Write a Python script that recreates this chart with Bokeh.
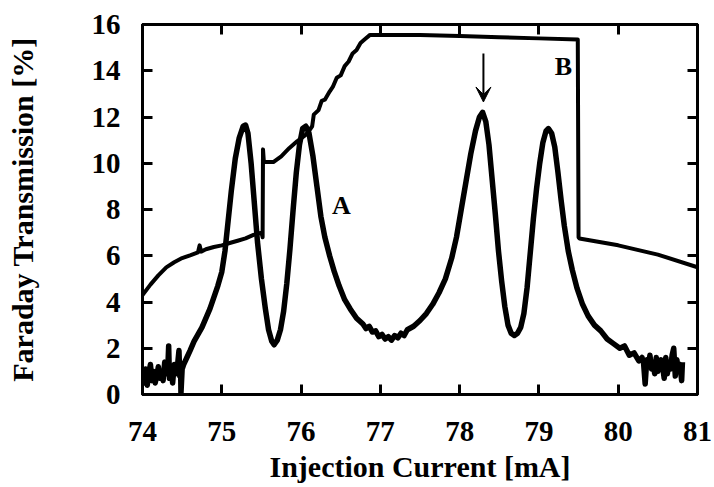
from bokeh.plotting import figure
from bokeh.models import (Range1d, FixedTicker, LinearAxis, Label, Arrow, VeeHead)
from bokeh.embed import file_html
from bokeh.resources import INLINE

# ---- data ----
x_ticks = [74, 75, 76, 77, 78, 79, 80, 81]
y_ticks = [0, 2, 4, 6, 8, 10, 12, 14, 16]

# Curve B (step-like trace)
b_x = [74.00, 74.10, 74.20, 74.30, 74.40, 74.50, 74.60, 74.70, 74.72, 74.74, 74.80, 74.90,
       75.00, 75.10, 75.20, 75.30, 75.40, 75.50, 75.515, 75.52, 75.53, 75.55, 75.60, 75.65,
       75.75, 75.85, 75.95, 76.05, 76.10, 76.14, 76.16, 76.22, 76.26, 76.30, 76.36, 76.40,
       76.45, 76.50, 76.55, 76.60, 76.65, 76.70, 76.75, 76.80, 76.87, 77.50, 78.00, 78.50,
       79.00, 79.49, 79.50, 79.51, 80.00, 80.50, 81.00]
b_y = [4.30, 4.75, 5.15, 5.50, 5.72, 5.90, 6.02, 6.15, 6.45, 6.18, 6.28, 6.38,
       6.45, 6.55, 6.65, 6.75, 6.90, 7.00, 6.80, 10.60, 10.10, 10.05, 10.05, 10.05,
       10.30, 10.65, 10.95, 11.20, 11.40, 11.60, 12.10, 12.30, 12.70, 12.75, 13.10, 13.30,
       13.70, 13.80, 14.20, 14.40, 14.75, 14.90, 15.20, 15.35, 15.55, 15.55, 15.50, 15.45,
       15.40, 15.35, 6.80, 6.75, 6.45, 6.05, 5.50]

# Curve A (Faraday resonances)
a_x = [74.00, 74.02, 74.04, 74.06, 74.08, 74.10, 74.12, 74.14, 74.16, 74.18, 74.20, 74.22,
       74.24, 74.26, 74.28, 74.30, 74.32, 74.33, 74.34, 74.36, 74.38, 74.40, 74.42, 74.44,
       74.46, 74.47, 74.48, 74.485, 74.50, 74.52, 74.56, 74.60, 74.65, 74.70, 74.75, 74.80,
       74.85, 74.90, 74.95, 75.00, 75.04, 75.08, 75.12, 75.17, 75.22, 75.27, 75.30, 75.33,
       75.37, 75.41, 75.45, 75.50, 75.55, 75.59, 75.63, 75.66, 75.70, 75.74, 75.78, 75.82,
       75.86, 75.90, 75.94, 75.98, 76.02, 76.06, 76.10, 76.15, 76.20, 76.25, 76.30, 76.36,
       76.42, 76.48, 76.55, 76.62, 76.70, 76.78, 76.82, 76.86, 76.90, 76.94, 76.98, 77.02,
       77.06, 77.10, 77.14, 77.18, 77.22, 77.26, 77.30, 77.34, 77.42, 77.50, 77.58, 77.66,
       77.74, 77.82, 77.90, 77.96, 78.02, 78.08, 78.14, 78.20, 78.25, 78.29, 78.33, 78.37,
       78.41, 78.45, 78.49, 78.53, 78.57, 78.61, 78.65, 78.69, 78.73, 78.77, 78.81, 78.85,
       78.89, 78.93, 78.97, 79.01, 79.05, 79.09, 79.12, 79.16, 79.20, 79.24, 79.28, 79.32,
       79.37, 79.42, 79.48, 79.55, 79.62, 79.70, 79.78, 79.86, 79.94, 80.02, 80.08, 80.14,
       80.20, 80.26, 80.30, 80.32, 80.34, 80.36, 80.38, 80.40, 80.42, 80.44, 80.46, 80.48,
       80.50, 80.52, 80.54, 80.56, 80.58, 80.60, 80.62, 80.64, 80.66, 80.68, 80.70, 80.72,
       80.74, 80.76, 80.78, 80.80, 80.81]
a_y = [1.20, 0.50, 1.10, 0.40, 0.90, 1.30, 0.60, 1.00, 0.50, 0.80, 1.20, 0.70,
       1.00, 0.60, 1.40, 0.90, 1.20, 2.10, 0.70, 1.10, 0.50, 1.30, 0.90, 1.20,
       1.90, 0.80, 1.30, 0.05, 1.10, 1.30, 1.60, 1.90, 2.30, 2.60, 2.90, 3.30,
       3.70, 4.20, 4.70, 5.30, 6.20, 7.50, 8.80, 10.20, 11.10, 11.60, 11.65, 11.30,
       10.00, 8.30, 6.60, 5.00, 3.70, 2.80, 2.30, 2.15, 2.35, 2.80, 3.60, 4.80,
       6.30, 8.00, 9.60, 10.80, 11.50, 11.60, 11.30, 10.30, 9.00, 7.70, 6.80, 6.00,
       5.30, 4.70, 4.10, 3.70, 3.30, 3.05, 2.85, 2.95, 2.70, 2.75, 2.50, 2.60,
       2.40, 2.50, 2.35, 2.55, 2.45, 2.65, 2.55, 2.80, 2.95, 3.20, 3.50, 3.90,
       4.40, 5.00, 5.90, 6.80, 8.00, 9.20, 10.40, 11.40, 12.00, 12.20, 11.80, 10.80,
       9.30, 7.80, 6.20, 4.90, 3.80, 3.00, 2.65, 2.55, 2.65, 2.90, 3.50, 4.60,
       6.10, 7.60, 8.90, 10.00, 10.90, 11.40, 11.50, 11.30, 10.70, 9.60, 8.40, 7.30,
       6.20, 5.40, 4.60, 3.90, 3.40, 3.00, 2.75, 2.40, 2.20, 2.00, 2.10, 1.70,
       1.80, 1.45, 1.60, 1.35, 0.45, 1.50, 1.20, 1.70, 1.10, 1.40, 0.90, 1.60,
       1.00, 1.30, 1.50, 1.20, 0.70, 1.60, 0.90, 1.40, 1.10, 1.70, 2.00, 0.80,
       1.50, 1.00, 1.30, 0.60, 1.40]

SERIF = "Liberation Serif"

p = figure(width=714, height=487, output_backend="svg", toolbar_location=None,
           x_range=Range1d(74, 81), y_range=Range1d(0, 16),
           min_border_left=142, min_border_top=24, min_border_right=17,
           min_border_bottom=93)
p.grid.visible = False
p.background_fill_color = "white"
p.border_fill_color = "white"
p.outline_line_color = "black"
p.outline_line_width = 3

p.line(b_x, b_y, line_color="black", line_width=4, line_join="round")
p.line(a_x, a_y, line_color="black", line_width=5.5, line_join="round")


def style_axis(ax, ticks, show_labels):
    ax.ticker = FixedTicker(ticks=ticks)
    ax.minor_tick_line_color = None
    ax.major_tick_in = 10
    ax.major_tick_out = 0
    ax.major_tick_line_width = 3
    ax.axis_line_width = 3
    ax.major_label_text_font = SERIF
    ax.major_label_text_font_style = "bold"
    ax.major_label_text_color = "black"
    ax.axis_label_text_font = SERIF
    ax.axis_label_text_font_style = "bold"
    ax.axis_label_text_color = "black"
    ax.major_label_text_font_size = "29px"
    ax.axis_label_text_font_size = "30px"
    if not show_labels:
        ax.major_label_overrides = {t: "" for t in ticks}
        ax.major_label_standoff = 0


style_axis(p.xaxis[0], x_ticks, True)
style_axis(p.yaxis[0], y_ticks, True)
p.xaxis[0].axis_label = "Injection Current [mA]"
p.yaxis[0].axis_label = "Faraday Transmission [%]"
p.xaxis[0].major_label_standoff = 27
p.xaxis[0].axis_label_standoff = 6
p.yaxis[0].major_label_standoff = 22
p.yaxis[0].axis_label_standoff = 50

top_ax = LinearAxis()
style_axis(top_ax, x_ticks, False)
p.add_layout(top_ax, "above")
right_ax = LinearAxis()
style_axis(right_ax, y_ticks, False)
p.add_layout(right_ax, "right")

p.add_layout(Label(x=76.51, y=8.17, text="A", text_font=SERIF, text_font_style="bold",
                   text_font_size="26px", text_color="black",
                   text_align="center", text_baseline="middle"))
p.add_layout(Label(x=79.31, y=14.2, text="B", text_font=SERIF, text_font_style="bold",
                   text_font_size="26px", text_color="black",
                   text_align="center", text_baseline="middle"))
p.add_layout(Arrow(x_start=78.30, y_start=14.75, x_end=78.30, y_end=12.65,
                   line_width=2, line_color="black",
                   end=VeeHead(size=15, fill_color="black", line_color="black", line_width=1)))

open("out.html", "w").write(file_html(p, INLINE))
